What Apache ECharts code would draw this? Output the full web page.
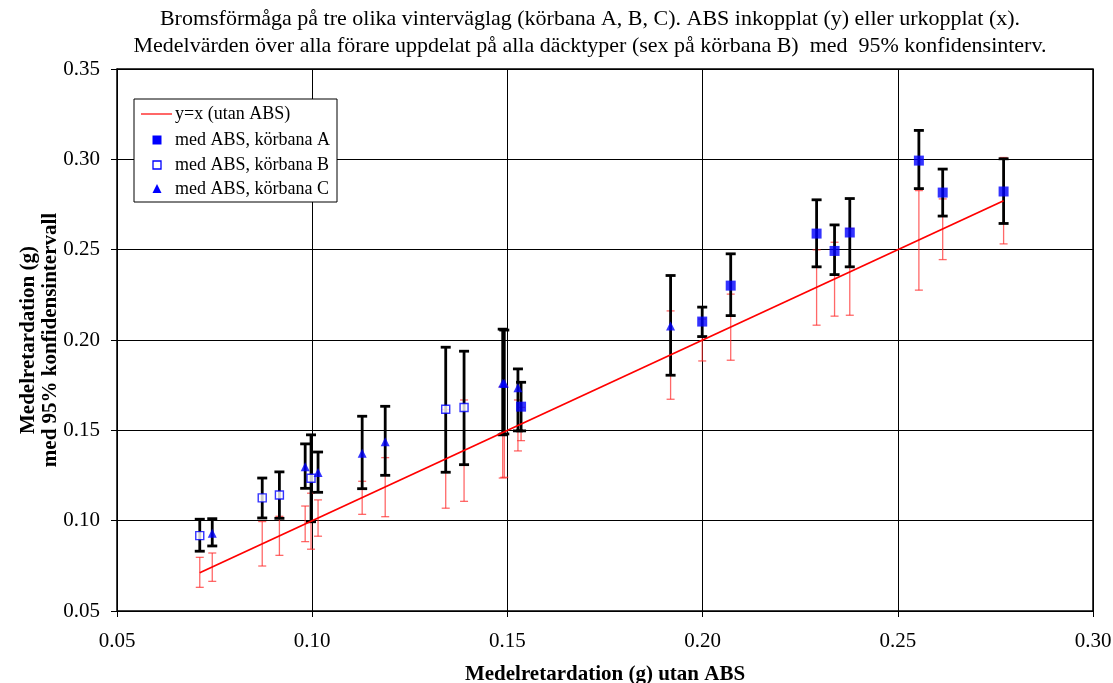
<!DOCTYPE html>
<html>
<head>
<meta charset="utf-8">
<script src="https://cdn.jsdelivr.net/npm/echarts@6/dist/echarts.min.js"></script>
<style>
html,body{margin:0;padding:0;background:#fff;}
#chart{width:1113px;height:683px;}
</style>
</head>
<body>
<div id="chart"></div>
<script>
// ---- data ----
// Road A (körbana A): x = without ABS, y = with ABS
const aX    = [0.1535, 0.1999, 0.2072, 0.2292, 0.2338, 0.2377, 0.2554, 0.2615, 0.2771];
const aXLo  = [0.1443, 0.1884, 0.1888, 0.2082, 0.2132, 0.2137, 0.2276, 0.2445, 0.2532];
const aXHi  = [0.1627, 0.2116, 0.2254, 0.2499, 0.2541, 0.2617, 0.2827, 0.2781, 0.3010];
const aY    = [0.1631, 0.2102, 0.2301, 0.2589, 0.2493, 0.2595, 0.2993, 0.2816, 0.2822];
const aYLo  = [0.1497, 0.2019, 0.2135, 0.2405, 0.2362, 0.2405, 0.2838, 0.2686, 0.2645];
const aYHi  = [0.1766, 0.2182, 0.2477, 0.2776, 0.2637, 0.2783, 0.3160, 0.2946, 0.3003];
// Road B (körbana B)
const bX    = [0.0712, 0.0872, 0.0916, 0.0997, 0.1342, 0.1389];
const bXLo  = [0.0631, 0.0749, 0.0808, 0.0842, 0.1069, 0.1107];
const bXHi  = [0.0797, 0.0995, 0.1024, 0.1152, 0.1615, 0.1668];
const bY    = [0.0917, 0.1126, 0.1142, 0.1235, 0.1617, 0.1626];
const bYLo  = [0.0831, 0.1015, 0.1013, 0.0994, 0.1268, 0.1310];
const bYHi  = [0.1008, 0.1236, 0.1270, 0.1475, 0.1960, 0.1938];
// Road C (körbana C)
const cX    = [0.0744, 0.0982, 0.1015, 0.1128, 0.1187, 0.1488, 0.1492, 0.1527, 0.1918];
const cXLo  = [0.0664, 0.0884, 0.0914, 0.1035, 0.1022, 0.1236, 0.1240, 0.1386, 0.1672];
const cXHi  = [0.0821, 0.1081, 0.1115, 0.1218, 0.1349, 0.1742, 0.1745, 0.1668, 0.2161];
const cY    = [0.0930, 0.1299, 0.1266, 0.1373, 0.1437, 0.1761, 0.1761, 0.1736, 0.2078];
const cYLo  = [0.0860, 0.1179, 0.1157, 0.1177, 0.1251, 0.1475, 0.1480, 0.1497, 0.1805];
const cYHi  = [0.1011, 0.1425, 0.1380, 0.1578, 0.1633, 0.2060, 0.2055, 0.1840, 0.2357];

const titleLines = [
  'Bromsförmåga på tre olika vinterväglag (körbana A, B, C). ABS inkopplat (y) eller urkopplat (x).',
  'Medelvärden över alla förare uppdelat på alla däcktyper (sex på körbana B)  med  95% konfidensinterv.'
];
const legendNames = ['y=x (utan ABS)', 'med ABS, körbana A', 'med ABS, körbana B', 'med ABS, körbana C'];
const xAxisName = 'Medelretardation (g) utan ABS';
const yAxisName = 'Medelretardation (g)\nmed 95% konfidensintervall';

// ---- build ----
const FONT = '"Liberation Serif", "Times New Roman", serif';
const allX = aX.concat(bX, cX);
const allXLo = aXLo.concat(bXLo, cXLo);
const allXHi = aXHi.concat(bXHi, cXHi);
const allYLo = aYLo.concat(bYLo, cYLo);
const allYHi = aYHi.concat(bYHi, cYHi);

const redBars = allX.map((x, i) => [x, allXLo[i], allXHi[i]]);
const blackBars = allX.map((x, i) => [x, allYLo[i], allYHi[i]]);
const xMin = Math.min.apply(null, allX), xMax = Math.max.apply(null, allX);

function barRenderer(color, width, cap) {
  return function (params, api) {
    const x = api.value(0), lo = api.value(1), hi = api.value(2);
    const p1 = api.coord([x, lo]), p2 = api.coord([x, hi]);
    const st = {stroke: color, lineWidth: width, fill: null};
    return {
      type: 'group',
      children: [
        {type: 'line', shape: {x1: p1[0], y1: p1[1], x2: p2[0], y2: p2[1]}, style: st},
        {type: 'line', shape: {x1: p1[0] - cap, y1: p1[1], x2: p1[0] + cap, y2: p1[1]}, style: st},
        {type: 'line', shape: {x1: p2[0] - cap, y1: p2[1], x2: p2[0] + cap, y2: p2[1]}, style: st}
      ]
    };
  };
}

const pairs = (xs, ys) => xs.map((x, i) => [x, ys[i]]);

const chart = echarts.init(document.getElementById('chart'), null, {renderer: 'canvas'});

// legend drawn as graphic
const LX = 134, LY = 99, LW = 203, LH = 103;
const rowY = [114, 140, 165, 189];
const textX = 175;
const legendGraphic = [
  {type: 'rect', shape: {x: LX, y: LY, width: LW, height: LH}, style: {fill: '#fff', stroke: '#000', lineWidth: 1}, z: 100},
  {type: 'line', shape: {x1: 141, y1: rowY[0], x2: 172, y2: rowY[0]}, style: {stroke: '#ff0000', lineWidth: 1.2}, z: 101},
  {type: 'rect', shape: {x: 152.5, y: rowY[1] - 4.5, width: 9, height: 9}, style: {fill: '#0000ff'}, z: 101},
  {type: 'rect', shape: {x: 153, y: rowY[2] - 4, width: 8, height: 8}, style: {fill: '#fff', stroke: '#0000ff', lineWidth: 1.3}, z: 101},
  {type: 'polygon', shape: {points: [[157, rowY[3] - 5], [161.5, rowY[3] + 4], [152.5, rowY[3] + 4]]}, style: {fill: '#0000ff'}, z: 101}
].concat(legendNames.map((n, i) => ({
  type: 'text', x: textX, y: rowY[i], z: 101,
  style: {text: n, font: '18px ' + FONT, fill: '#000', textVerticalAlign: 'middle', verticalAlign: 'middle'}
})));

const option = {
  backgroundColor: '#fff',
  animation: false,
  title: {
    text: titleLines.join('\n'),
    left: 590, top: 6, textAlign: 'center', padding: 0,
    textStyle: {fontFamily: FONT, fontSize: 22, fontWeight: 'normal', color: '#000', lineHeight: 27}
  },
  grid: {left: 117, right: 20, top: 69, bottom: 72, show: true, borderColor: '#000', borderWidth: 1.5,
         backgroundColor: 'transparent', containLabel: false, outerBoundsMode: 'none'},
  xAxis: {
    type: 'value', min: 0.05, max: 0.30, interval: 0.05,
    name: xAxisName, nameLocation: 'middle', nameGap: 53, nameMoveOverlap: false,
    nameTextStyle: {fontFamily: FONT, fontSize: 21, fontWeight: 'bold', color: '#000'},
    axisLine: {show: true, lineStyle: {color: '#000', width: 1}},
    axisTick: {show: true, length: 6, lineStyle: {color: '#000'}},
    axisLabel: {fontFamily: FONT, fontSize: 21, color: '#000', margin: 20, formatter: v => v.toFixed(2)},
    splitLine: {show: true, lineStyle: {color: '#000', width: 1}}
  },
  yAxis: {
    type: 'value', min: 0.05, max: 0.35, interval: 0.05,
    name: yAxisName, nameLocation: 'middle', nameGap: 55, nameRotate: 90, nameMoveOverlap: false,
    nameTextStyle: {fontFamily: FONT, fontSize: 21, fontWeight: 'bold', color: '#000', lineHeight: 22, align: 'center'},
    axisLine: {show: true, lineStyle: {color: '#000', width: 1}},
    axisTick: {show: true, length: 6, lineStyle: {color: '#000'}},
    axisLabel: {fontFamily: FONT, fontSize: 21, color: '#000', margin: 17, formatter: v => v.toFixed(2)},
    splitLine: {show: true, lineStyle: {color: '#000', width: 1}}
  },
  series: [
    {type: 'custom', name: 'ci utan', data: redBars, renderItem: barRenderer('rgba(255,40,40,0.7)', 1.3, 4), z: 2, silent: true},
    {type: 'custom', name: 'ci med', data: blackBars, renderItem: barRenderer('#000', 2.8, 5), z: 3, silent: true},
    {type: 'line', name: legendNames[0], data: [[xMin, xMin], [xMax, xMax]], showSymbol: false, symbol: 'none',
     lineStyle: {color: '#ff0000', width: 1.8}, z: 4},
    {type: 'scatter', name: legendNames[1], data: pairs(aX, aY), symbol: 'rect', symbolSize: 10,
     itemStyle: {color: '#0000ff'}, z: 5},
    {type: 'scatter', name: legendNames[2], data: pairs(bX, bY), symbol: 'rect', symbolSize: 8,
     itemStyle: {color: '#fff', borderColor: '#0000ff', borderWidth: 1.4}, z: 5},
    {type: 'scatter', name: legendNames[3], data: pairs(cX, cY), symbol: 'triangle', symbolSize: [9, 9],
     itemStyle: {color: '#0000ff'}, z: 5}
  ],
  graphic: legendGraphic
};
chart.setOption(option);
</script>
</body>
</html>
